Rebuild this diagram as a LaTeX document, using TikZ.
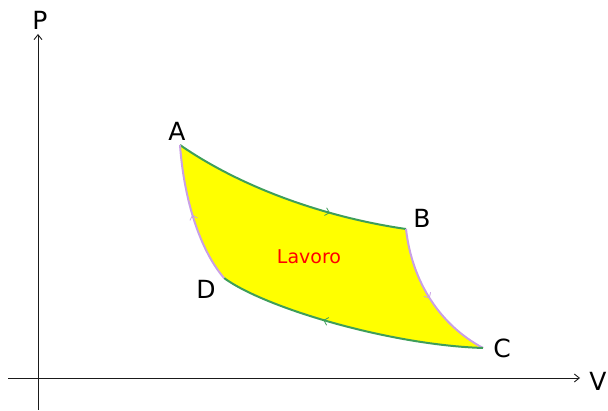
\documentclass[tikz,border=0pt]{standalone}
\usepackage{fontspec}
\setmainfont{DejaVu Sans}
\usepackage{xcolor}
\usetikzlibrary{arrows.meta,decorations.markings}
\definecolor{iso}{HTML}{3E9E5A}
\definecolor{adia}{HTML}{C9A0E6}
\definecolor{area}{HTML}{FFFF00}
\definecolor{ink}{HTML}{1A1A1A}
\tikzset{
  axis/.style={draw=ink, line width=0.9pt, -{Straight Barb[length=5pt,width=8pt]}},
  midarrow/.style={postaction={decorate, decoration={markings,
      mark=at position #1 with {\arrow[line width=0.8pt]{Straight Barb[length=4pt,width=8pt]}}}}},
  isoline/.style={draw=iso, line width=2pt},
  adialine/.style={draw=adia, line width=2pt},
  pt/.style={font=\fontsize{25}{25}\selectfont, text=black, inner sep=0pt},
  lbl/.style={font=\fontsize{19}{19}\selectfont, text=red, inner sep=0pt}
}

\begin{document}
\begin{tikzpicture}[x=1pt, y=-1pt]
  \useasboundingbox (0,0) rectangle (608,411);
  % axes
  \coordinate (o1) at (38,410); \coordinate (p1) at (38,34);
  \coordinate (o2) at (8,378);  \coordinate (v1) at (580,378);
  \draw[axis] (o1) -- (p1);
  \draw[axis] (o2) -- (v1);
  \node[pt] (P) at (40,20) {P};
  \node[pt] (V) at (598,381) {V};
  % cycle
  \coordinate (A) at (180,145);
  \coordinate (B) at (406,229);
  \coordinate (C) at (483,348);
  \coordinate (D) at (224,278);
  \fill[area] (A) .. controls (245,190) and (330,218) .. (B)
    .. controls (412,282) and (440,325) .. (C)
    .. controls (390,345) and (265,308) .. (D)
    .. controls (200,250) and (184,200) .. (A) -- cycle;
  \draw[isoline, midarrow=0.68, iso] (A) .. controls (245,190) and (330,218) .. (B);
  \draw[adialine, midarrow=0.5, adia] (B) .. controls (412,282) and (440,325) .. (C);
  \draw[isoline, midarrow=0.6, iso] (C) .. controls (390,345) and (265,308) .. (D);
  \draw[adialine, midarrow=0.5, adia] (D) .. controls (200,250) and (184,200) .. (A);
  \node[pt] (lA) at (177,131) {A};
  \node[pt] (lB) at (422,218) {B};
  \node[pt] (lC) at (502,348) {C};
  \node[pt] (lD) at (206,289) {D};
  \node[lbl] (W) at (309,257) {Lavoro};
\end{tikzpicture}
\end{document}
